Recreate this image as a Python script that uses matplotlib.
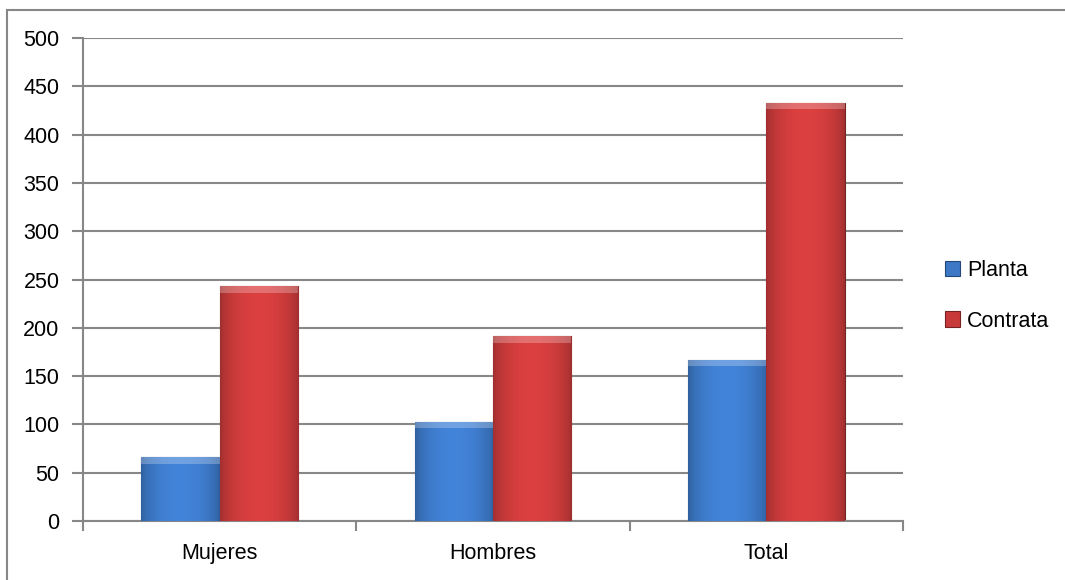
import numpy as np
import matplotlib
matplotlib.use("Agg")
import matplotlib.pyplot as plt
from matplotlib.patches import Rectangle
from matplotlib.font_manager import fontManager

categories = ["Mujeres", "Hombres", "Total"]
planta = [66, 103, 167]
contrata = [243, 191, 433]
series_names = ["Planta", "Contrata"]
yticks = list(range(0, 501, 50))

names = {f.name for f in fontManager.ttflist}
fam = "Liberation Sans Narrow" if "Liberation Sans Narrow" in names else "Liberation Sans"
plt.rcParams["font.family"] = [fam, "DejaVu Sans"]

grid_col = "#878787"
blue = "#3c78c6"
red = "#c83a3a"

fig = plt.figure(figsize=(10.65, 5.8), dpi=100)
# outer chart frame (only top and left edges fall inside the picture)
fig.add_artist(Rectangle((7 / 1065, -0.05), 1.1, 1 - 10 / 580 + 0.05,
                         transform=fig.transFigure, fill=False,
                         edgecolor=grid_col, lw=1.5))

ax = fig.add_axes([83 / 1065, 1 - 521 / 580, (903 - 83) / 1065, (521 - 38) / 580])
x = np.arange(len(categories))
w = 0.287


def shaded(bars, base):
    # fake the Excel bevel look: horizontal gradient clipped to each bar
    rgb = np.array(matplotlib.colors.to_rgb(base))
    for b in bars:
        x0, y0 = b.get_x(), b.get_y()
        bw, bh = b.get_width(), b.get_height()
        t = np.linspace(0, 1, 64)
        shade = 0.8 + 0.3 * np.sin(np.pi * t) ** 0.6
        img = np.clip(rgb[None, :] * shade[:, None], 0, 1)[None, :, :]
        im = ax.imshow(img, extent=(x0, x0 + bw, y0, y0 + bh), aspect="auto",
                       zorder=3, interpolation="bilinear")
        im.set_clip_path(b)
        # lighter top bevel
        ax.add_patch(Rectangle((x0, y0 + bh - 7), bw, 7, facecolor="white",
                               alpha=0.25, lw=0, zorder=4))
        b.set_edgecolor(rgb * 0.6)


b1 = ax.bar(x - w / 2, planta, w, color=blue, lw=0.8, zorder=2, label=series_names[0])
b2 = ax.bar(x + w / 2, contrata, w, color=red, lw=0.8, zorder=2, label=series_names[1])
shaded(b1, blue)
shaded(b2, red)

ax.set_xlim(-0.5, len(categories) - 0.5)
ax.set_ylim(0, 500)
ax.set_yticks(yticks)
ax.set_yticklabels([str(v) for v in yticks])
ax.yaxis.grid(True, color=grid_col, lw=1.5, zorder=0)
ax.set_axisbelow(True)

ax.set_xticks(x)
ax.set_xticklabels(categories)
ax.set_xticks(np.arange(len(categories) + 1) - 0.5, minor=True)
ax.tick_params(axis="x", which="major", length=0, pad=16, labelsize=15.5)
ax.tick_params(axis="x", which="minor", length=7, width=1.5, color=grid_col,
               direction="out")
ax.tick_params(axis="y", length=8, width=1.5, color=grid_col, pad=9, labelsize=15.5)

for s in ["top", "right"]:
    ax.spines[s].set_visible(False)
for s in ["left", "bottom"]:
    ax.spines[s].set_color(grid_col)
    ax.spines[s].set_linewidth(1.5)

leg = fig.legend(handles=[b1, b2], labels=series_names, loc="center left",
                 bbox_to_anchor=(926 / 1065, 1 - 296 / 580), frameon=False,
                 fontsize=15.5, handlelength=0.7, handleheight=0.7,
                 handletextpad=0.3, labelspacing=1.35)

fig.savefig("out.png", dpi=100)
